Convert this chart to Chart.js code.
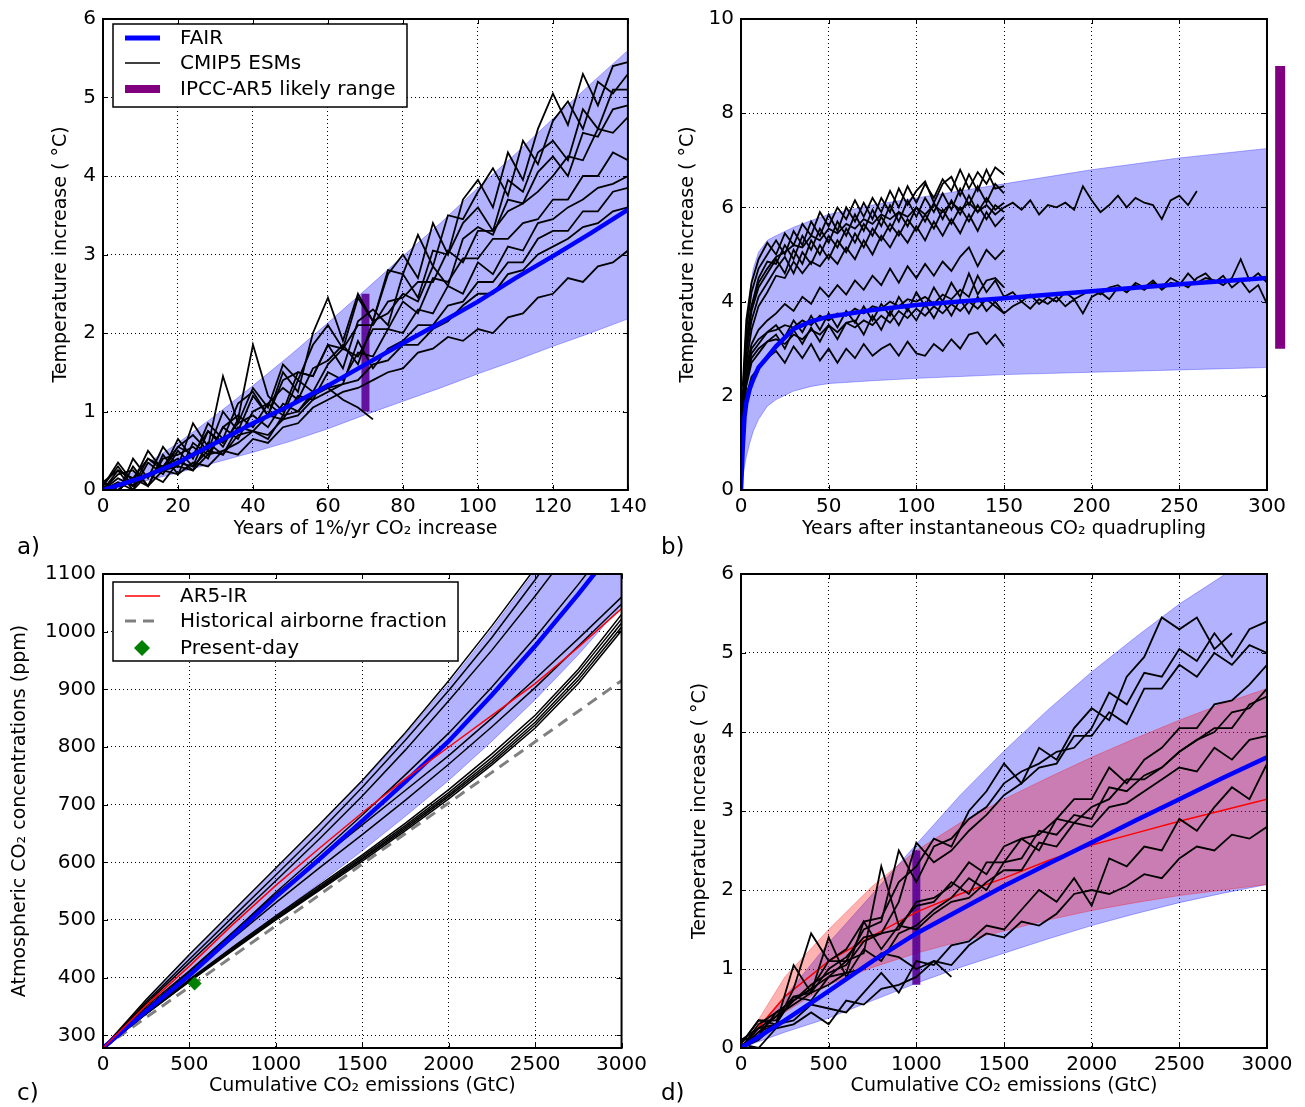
<!DOCTYPE html>
<html>
<head>
<meta charset="utf-8">
<script src="https://cdn.jsdelivr.net/npm/chart.js@4.4.1/dist/chart.umd.min.js"></script>
<style>
  body { margin: 0; background: #fff; }
  #wrap { position: relative; width: 1305px; height: 1107px; }
  canvas { position: absolute; }
  .tag { position: absolute; font-family: 'DejaVu Sans'; font-size: 23px; color: #000; }
</style>
</head>
<body>
<div id="wrap">
  <canvas id="chA" width="652" height="555" style="left:0px;top:0px"></canvas>
  <canvas id="chB" width="653" height="555" style="left:652px;top:0px"></canvas>
  <canvas id="chC" width="652" height="552" style="left:0px;top:555px"></canvas>
  <canvas id="chD" width="653" height="552" style="left:652px;top:555px"></canvas>
  <div class="tag" style="left:17px;top:533px">a)</div>
  <div class="tag" style="left:661px;top:533px">b)</div>
  <div class="tag" style="left:17px;top:1079px">c)</div>
  <div class="tag" style="left:661px;top:1079px">d)</div>
</div>
<script>
// ---------- panel a: 1%/yr CO2 runs ----------
const yearsA = [0,4,8,12,16,20,24,28,32,36,40,44,48,52,56,60,64,68,72,76,80,84,88,92,96,100,104,108,112,116,120,124,128,132,136,140];
const cmipA = [
  [0.05,0.3,0.05,0.4,0.25,0.65,0.4,0.85,0.65,1.1,1.25,0.95,1.5,1.25,2.0,2.45,1.9,2.5,2.15,2.75,3.0,2.7,3.4,3.0,3.7,3.95,3.6,4.3,3.95,4.6,5.05,4.65,5.3,4.9,5.4,5.45],
  [0.1,-0.05,0.4,0.15,0.55,0.3,0.85,0.55,1.45,0.85,1.3,1.05,1.6,1.4,1.85,2.1,1.8,2.45,2.15,2.8,2.75,3.25,2.85,3.5,3.45,3.8,4.1,3.75,4.45,4.15,4.7,4.95,4.6,5.2,5.05,5.3],
  [0.0,0.25,0.0,0.35,0.2,0.5,0.3,0.75,0.55,0.9,1.85,1.2,1.0,1.5,1.45,1.85,1.55,2.15,2.3,2.1,2.75,2.45,3.05,3.0,3.4,3.6,3.3,3.95,3.8,4.3,4.45,4.2,4.85,4.6,5.1,5.1],
  [0.1,-0.05,0.3,0.05,0.45,0.2,0.6,0.45,0.8,0.95,0.8,1.1,1.3,1.15,1.55,1.65,1.85,1.6,2.15,2.25,2.5,2.4,2.85,2.6,3.2,3.35,3.25,3.7,3.65,4.05,4.25,4.0,4.55,4.5,4.85,4.9],
  [0.05,0.35,0.1,0.5,0.25,0.55,0.7,0.5,1.0,0.75,1.2,0.95,1.4,1.5,1.45,1.85,1.8,2.1,2.1,2.4,2.45,2.65,2.65,3.05,2.9,3.3,3.3,3.55,3.65,3.8,4.0,4.25,4.2,4.6,4.55,4.75],
  [0.0,0.2,0.25,0.05,0.4,0.45,0.55,0.4,0.8,0.65,1.0,1.1,0.95,1.4,1.25,1.6,1.8,1.7,2.05,2.05,2.4,2.25,2.7,2.65,2.95,2.95,3.2,3.2,3.4,3.45,3.7,3.7,4.0,4.0,4.3,4.2],
  [0.0,0.15,0.05,0.2,0.3,0.4,0.25,0.6,0.45,0.8,0.75,0.95,0.9,1.2,1.15,1.5,1.4,1.75,1.7,2.05,2.0,2.3,2.25,2.6,2.5,2.9,2.75,3.1,3.05,3.4,3.45,3.6,3.7,3.85,3.9,4.0],
  [0.1,0.0,0.15,0.2,0.1,0.35,0.3,0.5,0.45,0.7,0.75,0.65,0.95,1.0,1.2,1.3,1.35,1.9,1.55,1.8,1.9,2.1,2.1,2.35,2.4,2.65,2.65,2.9,2.9,3.2,3.3,3.3,3.55,3.55,3.8,3.85],
  [0.0,0.1,0.0,0.2,0.25,0.3,0.25,0.45,0.5,0.6,0.75,0.7,0.9,0.95,1.15,1.25,1.35,1.4,1.6,1.65,1.85,1.85,2.05,2.15,2.35,2.5,2.5,2.75,2.8,3.0,3.1,3.2,3.35,3.4,3.55,3.6],
  [0.05,0.0,0.15,0.05,0.25,0.2,0.35,0.3,0.5,0.45,0.65,0.6,0.8,0.85,1.05,1.15,1.25,1.3,1.4,1.5,1.55,1.75,1.8,1.95,1.9,2.05,2.0,2.2,2.25,2.45,2.5,2.7,2.65,2.85,2.9,3.05],
  [0.1,0.25,0.15,0.4,0.3,0.55,0.45,0.75,0.6,0.85,0.95,0.8,1.1,1.0,1.25,1.3,1.15,1.05,0.9]
];
const yearsFairA = [0,10,20,30,40,50,60,70,80,90,100,110,120,130,140];
const fairA = [0,0.15,0.35,0.6,0.85,1.08,1.33,1.6,1.87,2.13,2.4,2.7,2.98,3.27,3.57];
const bandLowA = [0,0.1,0.22,0.35,0.48,0.62,0.78,0.96,1.13,1.3,1.48,1.65,1.83,2.0,2.18];
const bandUpA = [0,0.28,0.6,0.95,1.33,1.72,2.13,2.55,2.98,3.4,3.85,4.28,4.73,5.17,5.6];
const likelyA = {x: [70, 70], y: [1.0, 2.5]};

// ---------- panel b: abrupt 4xCO2 ----------
const yrsB = [1,3,6,10,15,20,25,30,35,40,45,50,55,60,65,70,75,80,85,90,95,100,105,110,115,120,125,130,135,140,145,150];
const yrsBLong = [1,3,6,10,15,20,25,30,35,40,45,50,55,60,65,70,75,80,85,90,95,100,105,110,115,120,125,130,135,140,145,150,155,160,165,170,175,180,185,190,195,200,205,210,215,220,225,230,235,240,245,250,255,260,265,270,275,280,285,290,295,300];
const cmipB = [
  [2.2,3.6,4.4,4.9,5.25,5.0,5.45,5.2,5.65,5.4,5.9,5.6,6.0,5.75,6.15,5.8,6.2,5.9,6.35,6.0,6.45,6.1,6.5,6.2,6.6,6.35,6.8,6.4,6.75,6.5,6.85,6.7],
  [2.0,3.4,4.2,4.7,5.0,5.3,5.0,5.5,5.2,5.7,5.4,5.85,5.5,6.0,5.7,6.1,5.75,6.2,5.9,6.4,6.05,6.35,6.55,6.1,6.5,6.65,6.25,6.7,6.35,6.8,6.4,6.45],
  [1.9,3.2,3.9,4.5,4.85,4.8,5.2,4.9,5.4,5.1,5.55,5.25,5.7,5.4,5.85,5.5,5.95,5.6,6.05,5.7,6.15,5.8,6.2,5.9,6.3,5.95,6.4,6.05,6.45,6.1,6.5,6.3],
  [1.8,3.0,3.8,4.3,4.6,4.9,4.6,5.1,4.8,5.3,5.0,5.4,5.15,5.55,5.25,5.65,5.4,5.8,5.5,5.9,5.6,6.0,5.7,6.1,5.75,6.15,5.85,6.25,5.9,6.2,5.95,6.1],
  [1.7,2.9,3.6,4.1,4.4,4.7,4.95,4.6,5.05,4.8,5.2,4.9,5.3,5.05,5.45,5.15,5.55,5.3,5.65,5.4,5.75,5.5,5.85,5.55,5.95,5.65,6.0,5.7,6.05,5.75,6.05,5.9],
  [1.6,2.7,3.4,3.9,4.2,4.55,4.5,4.85,4.6,4.85,4.75,5.0,4.8,5.15,4.9,5.3,5.0,5.4,5.15,5.5,5.25,5.6,5.3,5.7,5.4,5.75,5.45,5.85,5.5,5.9,5.6,5.8],
  [1.7,2.6,3.1,3.4,3.6,3.75,3.95,3.8,4.1,3.95,4.3,4.1,4.35,4.15,4.45,4.25,4.55,4.35,4.7,4.4,4.75,4.5,4.8,4.55,4.85,4.65,4.95,5.15,4.75,5.1,4.9,5.1],
  [1.5,2.4,2.9,3.1,3.35,3.5,3.25,3.6,3.35,3.7,3.4,3.75,3.45,3.8,3.55,3.9,3.6,3.95,3.7,4.1,3.8,4.2,3.9,4.3,4.0,4.4,4.1,4.6,4.15,4.45,4.5,4.3],
  [1.4,2.2,2.7,2.9,3.15,3.3,3.0,3.4,3.1,3.45,3.15,3.5,3.2,3.55,3.6,3.3,3.7,3.4,3.8,3.5,3.85,3.6,3.95,3.65,4.0,3.7,4.05,3.75,4.1,3.8,4.0,3.75],
  [1.3,2.0,2.4,2.6,2.8,2.95,2.7,3.05,2.8,3.1,2.75,3.0,2.7,3.0,2.8,3.1,2.85,3.0,3.1,2.85,3.15,2.9,2.85,3.1,2.95,3.2,3.0,3.3,3.35,3.1,3.3,3.05]
];
const cmipBLong = [
  [1.9,3.1,3.9,4.4,4.7,4.95,5.05,5.2,5.15,5.4,5.3,5.55,5.45,5.65,5.55,5.75,5.65,5.85,5.75,5.9,5.8,6.0,5.85,6.05,5.9,6.1,5.95,6.1,5.9,6.05,5.85,6.0,6.1,5.95,6.15,5.85,6.05,6.0,6.1,5.95,6.45,6.15,5.9,6.05,6.25,6.0,6.2,6.1,6.05,5.75,6.15,6.25,6.05,6.35],
  [1.6,2.5,3.0,3.2,3.35,3.4,3.5,3.45,3.6,3.5,3.7,3.6,3.75,3.7,3.85,3.75,3.9,3.85,4.0,3.9,4.05,4.0,4.1,3.95,4.15,4.05,4.25,4.1,4.55,4.2,4.45,4.1,4.2,4.0,4.15,3.95,4.1,4.0,4.2,4.05,4.15,4.25,4.15,4.3,4.35,4.2,4.4,4.3,4.45,4.25,4.4,4.35,4.6,4.4,4.5,4.45,4.35,4.5,4.9,4.45,4.6,4.4],
  [1.5,2.3,2.8,3.0,3.15,3.2,3.1,3.3,3.2,3.4,3.3,3.5,3.35,3.55,3.45,3.6,3.5,3.7,3.55,3.8,3.65,3.85,3.7,3.9,3.75,3.95,3.8,4.0,3.85,4.05,3.9,3.75,3.9,4.0,3.85,4.05,3.95,4.1,3.9,4.05,3.75,4.1,4.2,4.05,4.3,4.2,4.35,4.25,4.4,4.3,4.5,4.4,4.3,4.5,4.6,4.4,4.55,4.3,4.45,4.2,4.35,3.95]
];
const yearsFairB = [0,1,2,3,5,7,10,15,20,30,40,50,75,100,125,150,200,250,300];
const fairB = [0,0.9,1.55,1.85,2.15,2.35,2.6,2.82,3.05,3.42,3.58,3.68,3.82,3.93,4.0,4.07,4.22,4.37,4.5];
const bandLowB = [0,0.25,0.5,0.7,1.0,1.25,1.5,1.78,1.92,2.1,2.2,2.26,2.32,2.37,2.41,2.45,2.5,2.55,2.6];
const bandUpB = [0,1.6,2.6,3.3,4.2,4.7,5.05,5.3,5.4,5.58,5.72,5.85,6.05,6.2,6.35,6.5,6.8,7.05,7.25];
const likelyB = {x: [307.5, 307.5], y: [3, 9]};

// ---------- panel c: concentrations vs cumulative emissions ----------
const emisC = [0,250,500,750,1000,1250,1500,1750,2000,2250,2500,2750,3000];
const ticksC = [300,400,500,600,700,800,900,1000,1100];
const cmipC = [
  [278,362,440,515,590,665,742,825,915,1010,1110,1220,1340],
  [278,358,432,505,578,652,730,812,898,990,1090,1195,1310],
  [278,355,426,497,568,640,715,795,880,968,1062,1160,1270],
  [278,346,410,478,548,614,682,752,824,904,990,1082,1178],
  [278,350,412,478,545,605,665,725,785,850,918,988,1060],
  [278,347,405,468,530,590,648,708,770,835,903,975,1048],
  [278,339,397,453,507,560,613,668,726,788,855,935,1030],
  [278,338,396,451,505,557,610,664,721,782,849,929,1022],
  [278,338,395,450,503,555,607,661,717,777,843,922,1015],
  [278,337,394,449,502,553,605,658,714,773,838,916,1008],
  [278,337,393,447,500,551,602,655,710,769,833,910,1002]
];
const fairC = [278,342,404,472,540,605,672,740,810,890,975,1065,1160];
const bandLowC = [278,337,395,452,507,563,620,680,742,810,882,960,1045];
const bandUpC = [278,362,440,515,590,665,740,822,910,1005,1105,1215,1330];
const ar5C = [278,352,420,492,560,624,686,745,800,855,910,973,1040];
const airborneC = [278,331,384,437,490,543,597,650,703,756,809,862,915];
const presentDay = {x: 530, y: 390};

// ---------- panel d: warming vs cumulative emissions ----------
const emisD = [0,100,200,300,400,500,600,700,800,900,1000,1100,1200,1300,1400,1500,1600,1700,1800,1900,2000,2100,2200,2300,2400,2500,2600,2700,2800,2900,3000];
const cmipD = [
  [0,0.25,0.3,0.75,1.45,1.1,1.25,1.6,1.65,2.1,2.3,2.65,2.55,3.0,3.25,3.6,3.35,3.8,3.65,4.05,4.3,4.15,4.7,4.95,5.45,5.3,5.45,5.05,5.25],
  [0.05,0.35,0.35,0.6,0.75,1.1,1.1,1.5,1.6,2.5,2.1,2.55,2.65,2.9,3.05,3.35,3.5,3.6,3.75,3.8,4.05,4.5,4.35,4.75,4.7,5.05,4.9,5.25,4.95,5.3,5.4],
  [0.0,0.2,0.4,0.65,0.7,1.0,1.15,1.4,1.45,1.85,2.6,2.35,2.5,2.75,2.95,3.2,3.35,3.55,3.6,3.95,3.95,4.25,4.1,4.55,4.55,4.85,4.7,5.0,4.85,5.1,5.0],
  [0.0,0.3,0.45,0.6,0.8,0.95,1.05,1.35,1.45,1.5,1.85,1.9,2.05,2.35,2.2,2.55,2.65,2.7,2.9,3.15,3.15,3.55,3.35,3.65,3.8,4.05,4.05,4.35,4.4,4.6,4.85],
  [0.1,0.15,0.45,0.6,0.75,0.9,1.1,1.2,2.3,1.55,1.8,1.85,2.1,1.95,2.35,2.35,2.65,2.5,2.9,2.85,3.05,3.15,3.4,3.4,3.55,3.75,3.9,4.0,4.25,4.3,4.55],
  [0.0,0.2,0.3,1.05,0.7,1.4,0.9,1.25,1.1,1.45,1.55,1.75,1.9,2.15,2.0,2.35,2.4,2.75,2.7,2.95,2.9,3.3,3.25,3.45,3.55,3.75,3.9,4.05,4.05,4.35,4.45],
  [0.05,0.35,0.3,0.65,0.6,0.9,0.95,1.6,1.25,1.55,1.5,1.7,1.85,1.9,2.1,2.25,2.25,2.6,2.55,2.85,2.8,3.05,3.1,3.25,3.4,3.55,3.5,3.8,3.65,3.9,3.95],
  [0,0.1,0.3,0.35,0.55,0.5,0.45,0.7,0.95,0.7,1.1,1.05,1.3,1.35,1.55,1.5,1.75,2.0,1.85,2.15,1.8,2.4,2.3,2.55,2.5,2.9,2.75,3.05,3.3,3.15,3.6],
  [0.05,0.0,0.25,0.3,0.45,0.3,0.6,0.55,0.75,0.8,0.9,1.1,1.05,1.3,1.45,1.4,1.6,1.55,1.7,1.95,2.0,1.95,2.05,2.2,2.15,2.4,2.55,2.5,2.7,2.65,2.8],
  [0.1,0.25,0.4,0.55,0.7,0.8,0.95,1.0,1.2,1.15,1.0,1.1,0.9]
];
const emisBandD = [0,250,500,750,1000,1250,1500,1750,2000,2250,2500,2750,3000];
const fairD = [0,0.35,0.72,1.1,1.45,1.75,2.05,2.33,2.6,2.88,3.15,3.42,3.68];
const bandLowD = [0,0.2,0.38,0.6,0.82,1.02,1.2,1.38,1.55,1.7,1.84,1.96,2.07];
const bandUpD = [0,0.65,1.33,1.95,2.58,3.2,3.76,4.28,4.76,5.2,5.62,5.98,6.35];
const ar5LowD = [0,0.45,0.8,1.02,1.2,1.35,1.48,1.62,1.74,1.84,1.93,2.0,2.07];
const ar5UpD = [0,0.9,1.5,2.05,2.5,2.85,3.15,3.42,3.68,3.92,4.15,4.36,4.55];
const ar5D = [0,0.65,1.1,1.42,1.72,1.95,2.15,2.37,2.57,2.72,2.87,3.01,3.15];
const likelyD = {x: [1000, 1000], y: [0.8, 2.5]};

// ---------- styling ----------
const BLUE = '#0000ff';
const BAND_BLUE = 'rgba(0,0,255,0.3)';
const BAND_RED = 'rgba(255,0,0,0.3)';
const PURPLE = '#800080';
const LIKELY_IN = 'rgba(90,0,150,0.9)';
const CMIP_W = 1.8;

Chart.defaults.font.family = 'DejaVu Sans';
Chart.defaults.color = '#000';
Chart.defaults.animation = false;
Chart.defaults.events = [];
Chart.defaults.elements.point.radius = 0;
Chart.defaults.elements.point.hoverRadius = 0;
Chart.defaults.elements.line.tension = 0;
Chart.defaults.plugins.legend.display = false;
Chart.defaults.plugins.tooltip.enabled = false;

// legends drawn as matplotlib-style boxes
const legends = {
  chA: {
    box: [113, 24, 294, 83],
    items: [
      {kind: 'line', color: BLUE, width: 5, y: 38, text: 'FAIR'},
      {kind: 'line', color: '#000', width: 1.5, y: 63, text: 'CMIP5 ESMs'},
      {kind: 'line', color: PURPLE, width: 8, y: 89, text: 'IPCC-AR5 likely range'}
    ]
  },
  chC: {
    box: [113, 27, 345, 79],
    items: [
      {kind: 'line', color: '#ff0000', width: 1.5, y: 41, text: 'AR5-IR'},
      {kind: 'dash', color: '#808080', width: 3, y: 66, text: 'Historical airborne fraction'},
      {kind: 'diamond', color: '#008000', y: 93, text: 'Present-day'}
    ]
  }
};

function drawLegend(ctx, lg) {
  const [bx, by, bw, bh] = lg.box;
  ctx.fillStyle = '#fff';
  ctx.fillRect(bx, by, bw, bh);
  ctx.strokeStyle = '#000';
  ctx.lineWidth = 1.5;
  ctx.setLineDash([]);
  ctx.strokeRect(bx, by, bw, bh);
  ctx.font = '20px "DejaVu Sans"';
  ctx.textBaseline = 'middle';
  lg.items.forEach(it => {
    if (it.kind === 'diamond') {
      ctx.fillStyle = it.color;
      ctx.beginPath();
      ctx.moveTo(142 - 8, it.y);
      ctx.lineTo(142, it.y - 8);
      ctx.lineTo(142 + 8, it.y);
      ctx.lineTo(142, it.y + 8);
      ctx.closePath();
      ctx.fill();
    } else {
      ctx.strokeStyle = it.color;
      ctx.lineWidth = it.width;
      ctx.setLineDash(it.kind === 'dash' ? [11, 7] : []);
      ctx.beginPath();
      ctx.moveTo(125, it.y);
      ctx.lineTo(160, it.y);
      ctx.stroke();
      ctx.setLineDash([]);
    }
    ctx.fillStyle = '#000';
    ctx.fillText(it.text, 180, it.y + 1);
  });
}

// frame on all four sides, inward ticks, legend
const framePlugin = {
  id: 'frame',
  afterDraw(chart) {
    const {ctx, chartArea: a, scales} = chart;
    ctx.save();
    ctx.strokeStyle = '#000';
    ctx.lineWidth = 1;
    ctx.beginPath();
    scales.x.ticks.forEach(t => {
      const px = Math.round(scales.x.getPixelForValue(t.value)) + 0.5;
      ctx.moveTo(px, a.bottom); ctx.lineTo(px, a.bottom - 5);
      ctx.moveTo(px, a.top); ctx.lineTo(px, a.top + 5);
    });
    scales.y.ticks.forEach(t => {
      const py = Math.round(scales.y.getPixelForValue(t.value)) + 0.5;
      ctx.moveTo(a.left, py); ctx.lineTo(a.left + 5, py);
      ctx.moveTo(a.right, py); ctx.lineTo(a.right - 5, py);
    });
    ctx.stroke();
    ctx.lineWidth = 2;
    ctx.strokeRect(a.left, a.top, a.right - a.left, a.bottom - a.top);
    const lg = legends[chart.canvas.id];
    if (lg) drawLegend(ctx, lg);
    ctx.restore();
  }
};

function xAxis(min, max, step, text, h, titlePad) {
  return {
    type: 'linear', min: min, max: max,
    ticks: {stepSize: step, padding: 5, font: {size: 20}, maxRotation: 0, autoSkip: false, callback: v => v},
    grid: {color: '#000', lineWidth: 1, drawTicks: false},
    border: {display: false, dash: [1, 3]},
    title: {display: true, text: text, font: {size: 19}, padding: {top: 0, bottom: titlePad}},
    afterFit: s => { s.height = h; }
  };
}

function yAxis(min, max, step, text, w, titlePad) {
  return {
    type: 'linear', min: min, max: max,
    ticks: {stepSize: step, padding: 7, font: {size: 20}, autoSkip: false, callback: v => v},
    grid: {color: '#000', lineWidth: 1, drawTicks: false},
    border: {display: false, dash: [1, 3]},
    title: {display: true, text: text, font: {size: 19}, padding: {top: titlePad, bottom: 0}},
    afterFit: s => { s.width = w; }
  };
}

function pts(xs, ys) {
  return ys.map((y, i) => ({x: xs[i], y: y}));
}

function lineSet(xs, ys, color, width, order, extra) {
  return Object.assign({data: pts(xs, ys), borderColor: color, borderWidth: width, fill: false, order: order}, extra || {});
}

// two datasets: lower edge, then upper edge filled down to it
function bandSets(xs, low, up, color, order) {
  return [
    lineSet(xs, low, color, 1, order),
    lineSet(xs, up, color, 1, order, {fill: '-1', backgroundColor: color})
  ];
}

function makeChart(id, datasets, scales, pad) {
  return new Chart(document.getElementById(id), {
    type: 'line',
    data: {datasets: datasets},
    options: {
      responsive: false,
      maintainAspectRatio: false,
      layout: {padding: pad},
      scales: scales
    },
    plugins: [framePlugin]
  });
}

const tempTitle = 'Temperature increase ( \u00B0C)';

// panel a
const setsA = [].concat(
  bandSets(yearsFairA, bandLowA, bandUpA, BAND_BLUE, 10),
  [lineSet(likelyA.x, likelyA.y, LIKELY_IN, 8, 6)],
  cmipA.map(ys => lineSet(yearsA, ys, '#000', CMIP_W, 5)),
  [lineSet(yearsFairA, fairA, BLUE, 4.5, 2)]
);
makeChart('chA', setsA, {
  x: xAxis(0, 140, 20, 'Years of 1%/yr CO\u2082 increase', 65, 15),
  y: yAxis(0, 6, 1, tempTitle, 103, 50)
}, {left: 0, right: 24, top: 16, bottom: 0});

// panel b
const setsB = [].concat(
  bandSets(yearsFairB, bandLowB, bandUpB, BAND_BLUE, 10),
  cmipB.map(ys => lineSet(yrsB, ys, '#000', CMIP_W, 5)),
  cmipBLong.map(ys => lineSet(yrsBLong, ys, '#000', CMIP_W, 5)),
  [lineSet(yearsFairB, fairB, BLUE, 4.5, 2)],
  [lineSet(likelyB.x, likelyB.y, PURPLE, 10, 1, {clip: false})]
);
makeChart('chB', setsB, {
  x: xAxis(0, 300, 50, 'Years after instantaneous CO\u2082 quadrupling', 65, 15),
  y: yAxis(0, 10, 2, tempTitle, 89, 25)
}, {left: 0, right: 38, top: 16, bottom: 0});

// panel c
const setsC = [].concat(
  bandSets(emisC, bandLowC, bandUpC, BAND_BLUE, 10),
  [lineSet(emisC, airborneC, '#808080', 3, 7, {borderDash: [11, 7]})],
  cmipC.map(ys => lineSet(emisC, ys, '#000', 1.5, 5)),
  [lineSet(emisC, fairC, BLUE, 4.5, 3)],
  [lineSet(emisC, ar5C, '#ff0000', 1.5, 2)],
  [{data: [presentDay], showLine: false, pointStyle: 'rectRot', pointRadius: 7,
    backgroundColor: '#008000', borderColor: '#008000', borderWidth: 0, order: 1}]
);
const yC = yAxis(278, 1100, 100, 'Atmospheric CO\u2082 concentrations (ppm)', 103, 9);
yC.afterBuildTicks = s => { s.ticks = ticksC.map(v => ({value: v})); };
makeChart('chC', setsC, {
  x: xAxis(0, 3000, 500, 'Cumulative CO\u2082 emissions (GtC)', 59, 10),
  y: yC
}, {left: 0, right: 24, top: 18, bottom: 0});

// panel d
const setsD = [].concat(
  bandSets(emisBandD, bandLowD, bandUpD, BAND_BLUE, 11),
  bandSets(emisBandD, ar5LowD, ar5UpD, BAND_RED, 10),
  [lineSet(likelyD.x, likelyD.y, LIKELY_IN, 8, 7)],
  [lineSet(emisBandD, ar5D, '#ff0000', 1.5, 6)],
  cmipD.map(ys => lineSet(emisD, ys, '#000', CMIP_W, 5)),
  [lineSet(emisBandD, fairD, BLUE, 4.5, 2)]
);
makeChart('chD', setsD, {
  x: xAxis(0, 3000, 500, 'Cumulative CO\u2082 emissions (GtC)', 59, 10),
  y: yAxis(0, 6, 1, tempTitle, 89, 37)
}, {left: 0, right: 38, top: 18, bottom: 0});
</script>
</body>
</html>
